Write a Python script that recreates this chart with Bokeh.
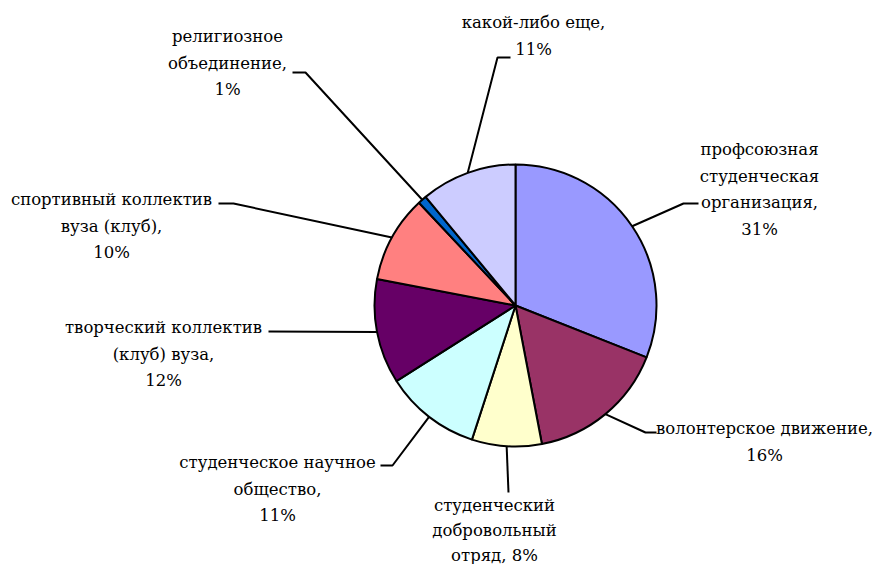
import math
from bokeh.plotting import figure
from bokeh.models import Range1d, ColumnDataSource
from bokeh.core.properties import value
from bokeh.embed import file_html
from bokeh.resources import INLINE

# ---- data ----
categories = [
    "профсоюзная студенческая организация",
    "волонтерское движение",
    "студенческий добровольный отряд",
    "студенческое научное общество",
    "творческий коллектив (клуб) вуза",
    "спортивный коллектив вуза (клуб)",
    "религиозное объединение",
    "какой-либо еще",
]
shares = [31, 16, 8, 11, 12, 10, 1, 11]
colors = ["#9999FF", "#993366", "#FFFFCC", "#CCFFFF", "#660066", "#FF8080", "#0066CC", "#CCCCFF"]

# label line breaks ("{p}" is replaced by the percentage)
label_lines = [
    ["профсоюзная", "студенческая", "организация,", "{p}"],
    ["волонтерское движение,", "{p}"],
    ["студенческий", "добровольный", "отряд, {p}"],
    ["студенческое научное", "общество,", "{p}"],
    ["творческий коллектив", "(клуб) вуза,", "{p}"],
    ["спортивный коллектив", "вуза (клуб),", "{p}"],
    ["религиозное", "объединение,", "{p}"],
    ["какой-либо еще,", "{p}"],
]

# ---- layout (canvas pixel coordinates, y measured from top) ----
W, H = 874, 564
CX, CY, R = 515, 305, 141
LINE_H = 26.5
FONT = "DejaVu Serif"
FONT_SIZE = "16.5px"

# label block: centre x, first line y, line height
label_pos = [
    (759, 149, LINE_H),
    (764, 428, LINE_H),
    (494, 505, 25),
    (277, 462, LINE_H),
    (163, 327, LINE_H),
    (111, 199, LINE_H),
    (227, 36, LINE_H),
    (533, 22, LINE_H),
]
# leader-line waypoints after the slice edge point
leader_pts = [
    [(683, 203), (698, 203)],
    [(645, 432), (656, 432)],
    [(508, 492)],
    [(392, 465), (380, 465)],
    [(268, 331)],
    [(233, 203), (218, 203)],
    [(305, 72), (292, 72)],
    [(497, 57), (510, 57)],
]


def fy(y):
    # canvas y (from top) -> data y (upwards)
    return H - y


p = figure(width=W, height=H, output_backend="svg", toolbar_location=None,
           x_range=Range1d(0, W), y_range=Range1d(0, H),
           min_border=0, outline_line_color=None, background_fill_color="white")
p.axis.visible = False
p.grid.visible = False

total = float(sum(shares))
starts, ends, mids = [], [], []
cum = 0.0
for v in shares:
    a0 = cum / total * 2 * math.pi
    cum += v
    a1 = cum / total * 2 * math.pi
    starts.append(math.pi / 2 - a0)
    ends.append(math.pi / 2 - a1)
    mids.append((a0 + a1) / 2)

src = ColumnDataSource(dict(start=starts, end=ends, color=colors,
                            cat=categories, share=shares))
p.wedge(x=CX, y=fy(CY), radius=R, start_angle="start", end_angle="end",
        direction="clock", fill_color="color", line_color="black",
        line_width=2, source=src)

# leader lines
xs, ys = [], []
for m, pts in zip(mids, leader_pts):
    sx = CX + R * math.sin(m)
    sy = CY - R * math.cos(m)
    lx = [sx] + [q[0] for q in pts]
    ly = [fy(sy)] + [fy(q[1]) for q in pts]
    xs.append(lx)
    ys.append(ly)
p.multi_line(xs=xs, ys=ys, line_color="black", line_width=2)

# labels
tx, ty, tt = [], [], []
for v, lines, (bx, by, lh) in zip(shares, label_lines, label_pos):
    for i, ln in enumerate(lines):
        tx.append(bx)
        ty.append(fy(by + i * lh))
        tt.append(ln.replace("{p}", f"{v}%"))
p.text(x=tx, y=ty, text=tt, text_font=value(FONT), text_font_size=FONT_SIZE,
       text_align="center", text_baseline="middle", text_color="black")

open("out.html", "w").write(file_html(p, INLINE))
